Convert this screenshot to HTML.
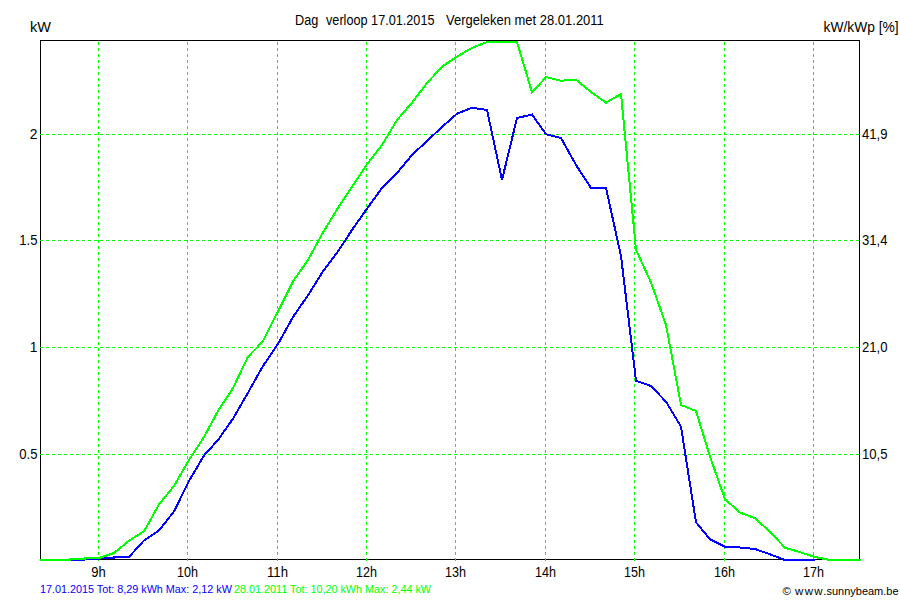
<!DOCTYPE html>
<html><head><meta charset="utf-8"><style>
html,body{margin:0;padding:0;background:#fff;width:900px;height:600px;overflow:hidden}
svg{display:block}
text{font-family:"Liberation Sans",sans-serif}
</style></head><body>
<svg width="900" height="600" viewBox="0 0 900 600">
<g shape-rendering="crispEdges">
<path d="M40.5 40.5 H859.5 V559.5 H40.5 Z" fill="none" stroke="#000" stroke-width="1"/>
<line x1="98.5" y1="42" x2="98.5" y2="561" stroke="#00ff00" stroke-width="1" stroke-dasharray="3 3"/>
<line x1="187.5" y1="42" x2="187.5" y2="561" stroke="#00ff00" stroke-width="1" stroke-dasharray="3 3"/>
<line x1="277.5" y1="42" x2="277.5" y2="561" stroke="#00ff00" stroke-width="1" stroke-dasharray="3 3"/>
<line x1="366.5" y1="42" x2="366.5" y2="561" stroke="#00ff00" stroke-width="1" stroke-dasharray="3 3"/>
<line x1="455.5" y1="42" x2="455.5" y2="561" stroke="#00ff00" stroke-width="1" stroke-dasharray="3 3"/>
<line x1="545.5" y1="42" x2="545.5" y2="561" stroke="#00ff00" stroke-width="1" stroke-dasharray="3 3"/>
<line x1="634.5" y1="42" x2="634.5" y2="561" stroke="#00ff00" stroke-width="1" stroke-dasharray="3 3"/>
<line x1="724.5" y1="42" x2="724.5" y2="561" stroke="#00ff00" stroke-width="1" stroke-dasharray="3 3"/>
<line x1="813.5" y1="42" x2="813.5" y2="561" stroke="#00ff00" stroke-width="1" stroke-dasharray="3 3"/>
<line x1="40" y1="134.5" x2="859" y2="134.5" stroke="#00ff00" stroke-width="1" stroke-dasharray="3 3"/>
<line x1="40" y1="240.5" x2="859" y2="240.5" stroke="#00ff00" stroke-width="1" stroke-dasharray="3 3"/>
<line x1="40" y1="347.5" x2="859" y2="347.5" stroke="#00ff00" stroke-width="1" stroke-dasharray="3 3"/>
<line x1="40" y1="454.5" x2="859" y2="454.5" stroke="#00ff00" stroke-width="1" stroke-dasharray="3 3"/>
<polyline points="40,560 84,560 84,559 99,559 99,558 114,558 114,557 129,557 144.00,540.40 159.00,530.40 174.00,511.50 189.00,481.00 204.00,455.50 218.00,440.00 233.00,418.70 248.00,392.70 263.00,366.00 278.00,344.00 293.00,317.00 308.00,295.30 323.00,271.30 338.00,251.30 353.00,228.50 368.00,207.30 382.00,188.00 397.00,173.00 412.00,155.00 427.00,141.00 442.00,127.00 457.00,113.70 472.00,107.70 487.00,110.00 502.00,180.00 517.00,118.00 532.00,114.50 546.00,134.20 561.00,138.00 576.00,164.90 591.00,188.00 606.00,188.00 621.00,256.00 636.00,380.70 651.00,386.00 666.00,401.70 681.00,426.70 696.00,522.30 710.00,539.30 725.00,546.70 740.00,547.50 755.00,549.00 770.00,554.30 785.00,560.00 800.00,560.00 815.00,560.00" fill="none" stroke="#0000ff" stroke-width="2" stroke-linejoin="miter"/>
<polyline points="40,560 70,560 70,559 85,559 85,558 99,558 114.00,553.00 129.00,540.70 144.00,531.40 159.00,504.30 174.00,486.00 189.00,460.00 204.00,437.00 218.00,411.00 233.00,388.00 248.00,356.70 263.00,341.30 278.00,311.30 293.00,281.30 308.00,260.00 323.00,232.50 338.00,208.00 353.00,185.30 368.00,163.00 382.00,145.00 397.00,120.00 412.00,102.70 427.00,83.00 442.00,66.70 457.00,56.70 472.00,47.80 487.00,42.00 502.00,42.00 517.00,42.00 532.00,92.40 546.00,77.10 561.00,80.70 576.00,79.70 591.00,92.00 606.00,102.70 621.00,94.00 636.00,249.80 651.00,282.40 666.00,324.90 681.00,405.00 696.00,411.00 710.00,456.70 725.00,499.30 740.00,512.50 755.00,518.30 770.00,531.90 785.00,547.80 800.00,552.10 815.00,557.00 830.00,560.00 845.00,560.00 861.00,560.00" fill="none" stroke="#00ff00" stroke-width="2" stroke-linejoin="miter"/>
</g>
<text x="30" y="32" font-size="14.5" fill="#000" text-anchor="start" >kW</text>
<text x="295" y="25" font-size="13.8" fill="#000" text-anchor="start" textLength="23.3" lengthAdjust="spacingAndGlyphs">Dag</text>
<text x="326" y="25" font-size="13.8" fill="#000" text-anchor="start" textLength="108.5" lengthAdjust="spacingAndGlyphs">verloop 17.01.2015</text>
<text x="446" y="25" font-size="13.8" fill="#000" text-anchor="start" textLength="157.8" lengthAdjust="spacingAndGlyphs">Vergeleken met 28.01.2011</text>
<text x="898.6" y="32" font-size="14" fill="#000" text-anchor="end" textLength="75" lengthAdjust="spacingAndGlyphs">kW/kWp [%]</text>
<text x="37.5" y="139" font-size="13.8" fill="#000" text-anchor="end" >2</text>
<text x="37.5" y="245" font-size="13.8" fill="#000" text-anchor="end" textLength="18.2" lengthAdjust="spacingAndGlyphs">1.5</text>
<text x="37.5" y="352" font-size="13.8" fill="#000" text-anchor="end" >1</text>
<text x="37.5" y="459" font-size="13.8" fill="#000" text-anchor="end" textLength="18.2" lengthAdjust="spacingAndGlyphs">0.5</text>
<text x="862" y="139" font-size="13.8" fill="#000" text-anchor="start" textLength="25.5" lengthAdjust="spacingAndGlyphs">41,9</text>
<text x="862" y="245" font-size="13.8" fill="#000" text-anchor="start" textLength="25.5" lengthAdjust="spacingAndGlyphs">31,4</text>
<text x="862" y="352" font-size="13.8" fill="#000" text-anchor="start" textLength="25.5" lengthAdjust="spacingAndGlyphs">21,0</text>
<text x="862" y="459" font-size="13.8" fill="#000" text-anchor="start" textLength="25.5" lengthAdjust="spacingAndGlyphs">10,5</text>
<text x="98.5" y="577" font-size="13.8" fill="#000" text-anchor="middle" textLength="14.5" lengthAdjust="spacingAndGlyphs">9h</text>
<text x="187.5" y="577" font-size="13.8" fill="#000" text-anchor="middle" textLength="21" lengthAdjust="spacingAndGlyphs">10h</text>
<text x="277.5" y="577" font-size="13.8" fill="#000" text-anchor="middle" textLength="21" lengthAdjust="spacingAndGlyphs">11h</text>
<text x="366.5" y="577" font-size="13.8" fill="#000" text-anchor="middle" textLength="21" lengthAdjust="spacingAndGlyphs">12h</text>
<text x="455.5" y="577" font-size="13.8" fill="#000" text-anchor="middle" textLength="21" lengthAdjust="spacingAndGlyphs">13h</text>
<text x="545.5" y="577" font-size="13.8" fill="#000" text-anchor="middle" textLength="21" lengthAdjust="spacingAndGlyphs">14h</text>
<text x="634.5" y="577" font-size="13.8" fill="#000" text-anchor="middle" textLength="21" lengthAdjust="spacingAndGlyphs">15h</text>
<text x="724.5" y="577" font-size="13.8" fill="#000" text-anchor="middle" textLength="21" lengthAdjust="spacingAndGlyphs">16h</text>
<text x="813.5" y="577" font-size="13.8" fill="#000" text-anchor="middle" textLength="21" lengthAdjust="spacingAndGlyphs">17h</text>
<text x="40" y="593" font-size="10.8" fill="#0000ff" text-anchor="start" >17.01.2015 Tot: 8,29 kWh Max: 2,12 kW</text>
<text x="234" y="593" font-size="10.8" fill="#00ff00" text-anchor="start" >28.01.2011 Tot: 10,20 kWh Max: 2,44 kW</text>
<text x="782.5" y="595" font-size="11.5" fill="#000" text-anchor="start" >©</text>
<text x="795" y="595" font-size="11.5" fill="#000" text-anchor="start" textLength="31.5" lengthAdjust="spacing">www.</text>
<text x="826.5" y="595" font-size="11.5" fill="#000" text-anchor="start" textLength="72" lengthAdjust="spacingAndGlyphs">sunnybeam.be</text>
</svg>
</body></html>
